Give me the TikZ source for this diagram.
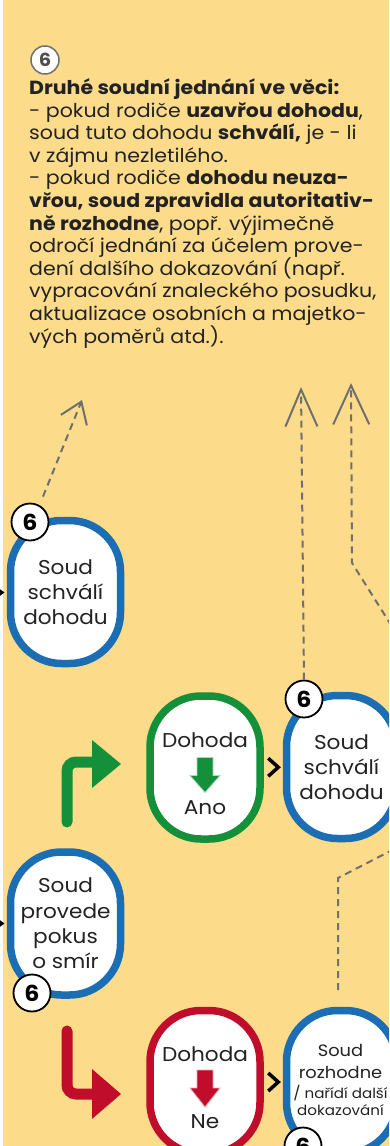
\documentclass[tikz,border=0pt]{standalone}
\usepackage{fontspec}
\setmainfont{Poppins}[FakeStretch=1.08]
\usetikzlibrary{arrows.meta,calc}
\definecolor{bgy}{HTML}{FCDC8B}
\definecolor{nblue}{HTML}{1C6EB4}
\definecolor{ngreen}{HTML}{14903A}
\definecolor{nred}{HTML}{BF0D2B}
\definecolor{dgray}{HTML}{6F6F6F}
\definecolor{txt}{HTML}{222222}
\begin{document}
\begin{tikzpicture}[x=1pt,y=-1pt,
  stadium/.style={rectangle, rounded corners=51, minimum width=110, minimum height=143,
    line width=7.5, fill=white, align=center, inner sep=0pt, text=txt,
    font=\fontsize{20}{25.3}\selectfont},
  bluebox/.style={stadium, draw=nblue},
  greenbox/.style={stadium, draw=ngreen},
  redbox/.style={stadium, draw=nred},
  badge/.style={circle, draw=black, line width=1.8, fill=white, minimum size=37,
    inner sep=0pt, text=black, font=\bfseries\fontsize{22}{22}\selectfont},
  tline/.style={anchor=base west, inner sep=0pt, text=txt, font=\fontsize{19}{22}\selectfont},
  ntext/.style={inner sep=0pt, text=txt, font=\fontsize{20}{24}\selectfont},
  dline/.style={draw=dgray, line width=2, dash pattern=on 7pt off 5pt},
  chev/.style={draw=black, line width=3.5, line join=miter},
  turn/.style={line width=11, rounded corners=9}
]
\useasboundingbox (0,0) rectangle (389,1146);
\clip (0,0) rectangle (389,1146);
\fill[white] (0,0) rectangle (389,1146);
\fill[bgy] (3,0) rectangle (389,1146);

% header
\node[circle, draw=dgray, line width=1.5, fill=white, minimum size=28, inner sep=0pt,
  text=txt!80, font=\bfseries\fontsize{18}{18}\selectfont] (hd) at (45,60) {6};
\node[tline] (l1) at (29,94.5) {\textbf{Druhé soudní jednání ve věci:}};
\node[tline] (l2) at (29,117.1) {- pokud rodiče \textbf{uzavřou dohodu},};
\node[tline] (l3) at (29,139.7) {soud tuto dohodu \textbf{schválí,} je - li};
\node[tline] (l4) at (29,162.3) {v zájmu nezletilého.};
\node[tline] (l5) at (29,184.9) {- pokud rodiče \textbf{dohodu neuza-}};
\node[tline] (l6) at (29,207.5) {\textbf{vřou, soud zpravidla autoritativ-}};
\node[tline] (l7) at (29,230.1) {\textbf{ně rozhodne}, popř. výjimečně};
\node[tline] (l8) at (29,252.7) {odročí jednání za účelem prove-};
\node[tline] (l9) at (29,275.3) {dení dalšího dokazování (např.};
\node[tline] (l10) at (29,297.9) {vypracování znaleckého posudku,};
\node[tline] (l11) at (29,320.5) {aktualizace osobních a majetko-};
\node[tline] (l12) at (29,343.1) {vých poměrů atd.).};

% dashed arrows
\coordinate (t1) at (82,400);
\coordinate (t2) at (301,387);
\coordinate (t3) at (351,383);
\coordinate (k3) at (352,563);
\coordinate (e3) at (398,636);
\coordinate (s4) at (338,990);
\coordinate (k4) at (338,878);
\coordinate (e4) at (400,846);

% nodes
\node[bluebox] (n1) at (65.5,592) {Soud\\schválí\\dohodu};
\node[greenbox] (n2) at (205,767.5) {};
\node[bluebox] (n3) at (341.5,767) {Soud\\schválí\\dohodu};
\node[bluebox] (n4) at (65.5,923.5) {Soud\\provede\\pokus\\o smír};
\node[redbox] (n5) at (205,1082) {};
\node[bluebox] (n6) at (341.5,1082) {};

% texts inside Dohoda nodes
\node[ntext] (n2a) at ($(n2.center)+(0,-27)$) {Dohoda};
\node[ntext] (n2b) at ($(n2.center)+(0,40)$) {Ano};
\node[ntext] (n5a) at ($(n5.center)+(0,-28)$) {Dohoda};
\node[ntext] (n5b) at ($(n5.center)+(0,40)$) {Ne};
\node[ntext, font=\fontsize{16.5}{21}\selectfont] (n6a) at ($(n6.center)+(-1,-32)$) {Soud};
\node[ntext, font=\fontsize{16.5}{21}\selectfont] (n6b) at ($(n6.center)+(-1,-10)$) {rozhodne};
\node[ntext, font=\fontsize{14}{18}\selectfont] (n6c) at ($(n6.center)+(-1,11)$) {/ nařídí další};
\node[ntext, font=\fontsize{14}{18}\selectfont] (n6d) at ($(n6.center)+(-1,28)$) {dokazování};

% block arrows inside Dohoda nodes
\filldraw[fill=ngreen, draw=ngreen!35, line width=0.8]
  ($(n2.center)+(-8,-10)$) -- ++(16,0) -- ++(0,18) -- ++(7,0) -- ($(n2.center)+(0,25)$)
  -- ($(n2.center)+(-15,8)$) -- ++(7,0) -- cycle;
\filldraw[fill=nred, draw=nred!35, line width=0.8]
  ($(n5.center)+(-8,-12)$) -- ++(16,0) -- ++(0,18) -- ++(7,0) -- ($(n5.center)+(0,25)$)
  -- ($(n5.center)+(-15,6)$) -- ++(7,0) -- cycle;

% chevrons
\coordinate (c1) at ($(n2.east)!0.5!(n3.west)$);
\coordinate (c2) at ($(n5.east)!0.5!(n6.west)$);
\draw[chev] ($(c1)+(-5,-9)$) -- ($(c1)+(5,0)$) -- ($(c1)+(-5,9)$);
\draw[chev] ($(c2)+(-5,-9)$) -- ($(c2)+(5,0)$) -- ($(c2)+(-5,9)$);

% small arrow tips at left edge
\fill[black] (-3,587) -- (4.5,592.5) -- (-3,598) -- cycle;
\fill[black] (-3,918) -- (4.5,923.5) -- (-3,929) -- cycle;

% turn arrows
\coordinate (g0) at (67,822);
\coordinate (g1) at (67,762);
\coordinate (g2) at (96,762);
\draw[turn, ngreen, line cap=round] (g0) -- (g1) -- (g2);
\fill[ngreen] (92,740) -- (121,764) -- (92,788) -- cycle;
\coordinate (r0) at (67,1031);
\coordinate (r1) at (67,1094);
\coordinate (r2) at (96,1094);
\draw[turn, nred, line cap=round] (r0) -- (r1) -- (r2);
\fill[nred] (92,1069) -- (121,1094) -- (92,1119) -- cycle;

% badges
\node[badge] (b1) at (30,522) {6};
\node[badge] (b3) at (304,699) {6};
\node[badge] (b4) at (32,993) {6};
\node[badge] (b6) at (303,1146) {6};

% dashed connectors
\draw[dline, -{Straight Barb[length=20pt,width=28pt]}] (b1.north)+(13,-6) -- (t1);
\draw[dline, -{Straight Barb[length=37pt,width=32pt]}] (b3.north) -- (t2);
\draw[dline, -{Straight Barb[length=39pt,width=36pt]}] (e3) -- (k3) -- (t3);
\draw[dline] (s4) -- (k4) -- (e4);
\end{tikzpicture}
\end{document}
